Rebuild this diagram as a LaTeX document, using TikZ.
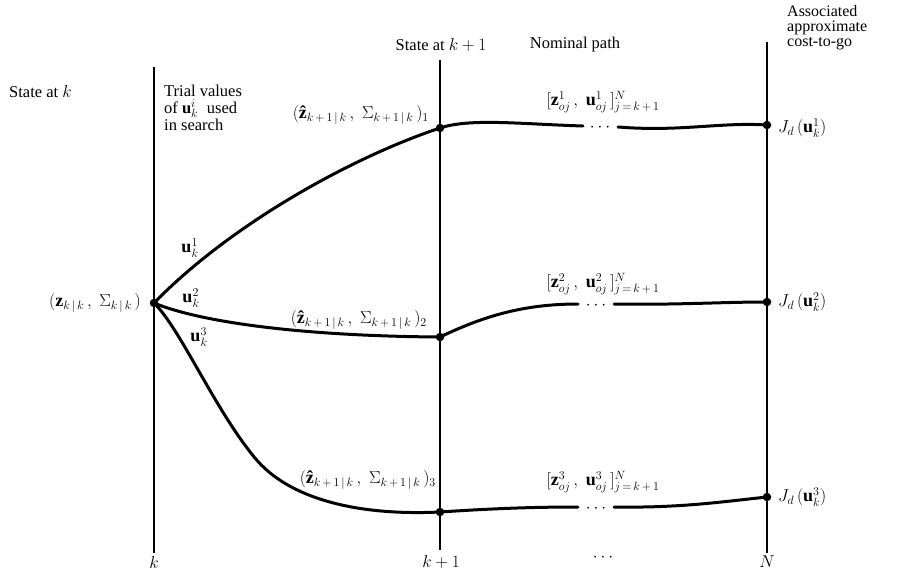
\documentclass[tikz,border=0pt]{standalone}
\usepackage{fontspec}
\setmainfont{Liberation Serif}
\newcommand{\zhatb}{\mbox{\bfseries ẑ}}
\begin{document}
\begin{tikzpicture}[x=1pt,y=-1pt,
  vline/.style={line width=1.6pt},
  pathline/.style={line width=3pt, line cap=round},
  dot/.style={circle,fill,inner sep=0pt,minimum size=8.5pt},
  lbl/.style={font=\fontsize{16.5}{18}\selectfont, inner sep=1pt},
  mlbl/.style={font=\fontsize{18}{20}\selectfont, inner sep=1pt}]
\useasboundingbox (0,0) rectangle (923,574);
% vertical lines
\coordinate (kT) at (154,67);  \coordinate (kB) at (154,553);
\coordinate (k1T) at (440,60); \coordinate (k1B) at (440,550);
\coordinate (NT) at (767,42);  \coordinate (NB) at (767,553);
\draw[vline] (kT) -- (kB);
\draw[vline] (k1T) -- (k1B);
\draw[vline] (NT) -- (NB);
% dots
\node[dot] (s0) at (154,303) {};
\node[dot] (a1) at (440,128) {};
\node[dot] (a2) at (440,337) {};
\node[dot] (a3) at (440,512) {};
\node[dot] (e1) at (767,125) {};
\node[dot] (e2) at (767,302) {};
\node[dot] (e3) at (767,497) {};
% gaps
\coordinate (g1a) at (583,126); \coordinate (g1b) at (618,127);
\coordinate (g2a) at (578,304); \coordinate (g2b) at (614,304);
\coordinate (g3a) at (578,507); \coordinate (g3b) at (614,507);
% left branches
\draw[pathline] (s0.center) .. controls (230,225) and (350,158) .. (a1.center);
\draw[pathline] (s0.center) .. controls (200,322) and (300,336) .. (a2.center);
\draw[pathline] (s0.center) .. controls (180,328) and (215,410) .. (255,458)
  .. controls (288,498) and (355,516) .. (a3.center);
% nominal paths
\draw[pathline] (a1.center) .. controls (470,118) and (520,124) .. (g1a);
\draw[pathline] (g1b) .. controls (680,132) and (720,122) .. (e1.center);
\draw[pathline] (a2.center) .. controls (480,318) and (520,304) .. (g2a);
\draw[pathline] (g2b) .. controls (680,305) and (720,302) .. (e2.center);
\draw[pathline] (a3.center) .. controls (500,508) and (540,507) .. (g3a);
\draw[pathline] (g3b) .. controls (680,508) and (720,502) .. (e3.center);
\node[mlbl] (d1) at (600,128) {$\cdots$};
\node[mlbl] (d2) at (596,306) {$\cdots$};
\node[mlbl] (d3) at (596,509) {$\cdots$};
% labels
\node[mlbl, anchor=east] (lz) at (142,303) {$(\mathbf{z}_{k\,|\,k}\,,\;\Sigma_{k\,|\,k}\,)$};
\node[lbl, anchor=west] (lsk) at (8,92) {State at $k$};
\node[lbl] (lsk1) at (441,45) {State at $k+1$};
\node[lbl] (lnp) at (575,45) {Nominal path};
\node[lbl, anchor=west, align=left, font=\fontsize{16}{15}\selectfont] (lac) at (786,28) {Associated\\approximate\\cost-to-go};
\node[lbl, anchor=north west, align=left, font=\fontsize{16.5}{17}\selectfont] (ltv) at (163,84) {Trial values\\of $\mathbf{u}_k^{i}$\; used\\in search};
\node[mlbl] (lu1) at (190,248) {$\mathbf{u}_k^1$};
\node[mlbl] (lu2) at (191,298) {$\mathbf{u}_k^2$};
\node[mlbl] (lu3) at (199,337) {$\mathbf{u}_k^3$};
\node[mlbl, anchor=east] (lh1) at (430,115) {$(\zhatb_{k\,+\,1\,|\,k}\,,\;\Sigma_{k\,+\,1\,|\,k}\,)_1$};
\node[mlbl, anchor=east] (lh2) at (428,320) {$(\zhatb_{k\,+\,1\,|\,k}\,,\;\Sigma_{k\,+\,1\,|\,k}\,)_2$};
\node[mlbl, anchor=east] (lh3) at (437,480) {$(\zhatb_{k\,+\,1\,|\,k}\,,\;\Sigma_{k\,+\,1\,|\,k}\,)_3$};
\node[mlbl] (ln1) at (603,102) {$[\mathbf{z}_{oj}^1\,,\;\mathbf{u}_{oj}^1\,]_{j\,=\,k\,+\,1}^{N}$};
\node[mlbl] (ln2) at (603,284) {$[\mathbf{z}_{oj}^2\,,\;\mathbf{u}_{oj}^2\,]_{j\,=\,k\,+\,1}^{N}$};
\node[mlbl] (ln3) at (603,482) {$[\mathbf{z}_{oj}^3\,,\;\mathbf{u}_{oj}^3\,]_{j\,=\,k\,+\,1}^{N}$};
\node[mlbl, anchor=west] (lj1) at (777,128) {$J_d\,(\mathbf{u}_k^1)$};
\node[mlbl, anchor=west] (lj2) at (777,302) {$J_d\,(\mathbf{u}_k^2)$};
\node[mlbl, anchor=west] (lj3) at (777,497) {$J_d\,(\mathbf{u}_k^3)$};
\node[mlbl] (bk) at (154,562) {$k$};
\node[mlbl] (bk1) at (441,562) {$k+1$};
\node[mlbl] (bd) at (603,558) {$\cdots$};
\node[mlbl] (bN) at (767,562) {$N$};
\end{tikzpicture}
\end{document}
